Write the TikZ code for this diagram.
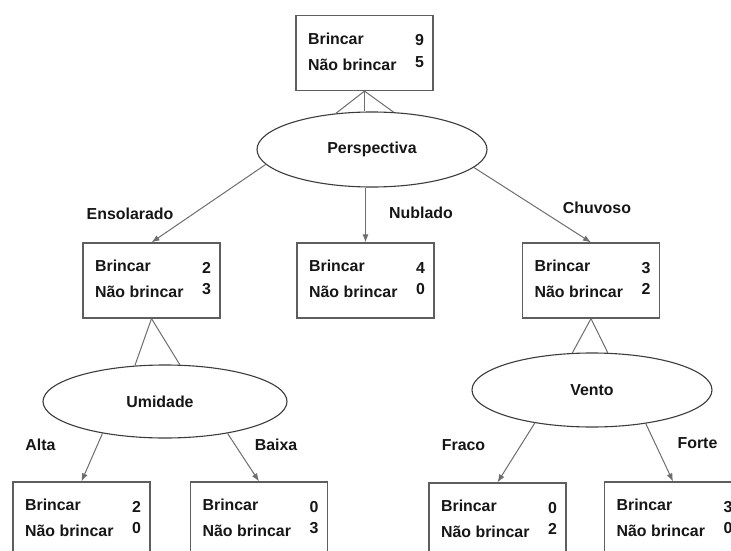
\documentclass[tikz,border=0pt]{standalone}
\usepackage{fontspec}
\setmainfont{Liberation Sans}
\usetikzlibrary{shapes.geometric,arrows.meta,calc}

\definecolor{inkc}{HTML}{161616}
\definecolor{boxc}{HTML}{5E5E5E}
\definecolor{linec}{HTML}{6E6E6E}
\definecolor{ellc}{HTML}{3C3C3C}

% one attribute box: two class rows with their counts
\newcommand\boxstats[3]{%
  \node[lbl,anchor=base west] (#1-a) at ($(#1.north west)+(12.5,29.5)$) {Brincar};
  \node[lbl,anchor=base west] (#1-b) at ($(#1.north west)+(12.5,55.5)$) {Não brincar};
  \node[lbl,anchor=base] (#1-n) at ($(#1.north east)+(-14,31)$) {#2};
  \node[lbl,anchor=base] (#1-m) at ($(#1.north east)+(-14,52.5)$) {#3};
}

\begin{document}
\begin{tikzpicture}[x=1pt,y=-1pt,
  every node/.style={font=\fontsize{15.9}{18}\selectfont\bfseries, text=inkc},
  lbl/.style={inner sep=0pt},
  statbox/.style={draw=boxc, line width=1.2pt, rectangle, minimum width=137pt, minimum height=75pt, inner sep=0pt},
  ell/.style={draw=ellc, line width=1.1pt, ellipse, inner sep=0pt},
  link/.style={draw=linec, line width=1pt},
  arr/.style={link, -{Latex[length=8pt,width=6pt]}}
]
\useasboundingbox (0,0) rectangle (731,551);
\clip (0,0) rectangle (731,551);
\fill[white] (0,0) rectangle (731,551);

% boxes
\node[statbox] (root)  at (364.5,53)   {};
\node[statbox] (ens)   at (151.5,280.5) {};
\node[statbox] (nub)   at (365.5,280.5) {};
\node[statbox] (chu)   at (591,280.5)   {};
\node[statbox] (alta)  at (81.5,519.5)  {};
\node[statbox] (baixa) at (259,519.5)   {};
\node[statbox] (fraco) at (497.5,520.5) {};
\node[statbox] (forte) at (673,519.5)   {};

\boxstats{root}{9}{5}
\boxstats{ens}{2}{3}
\boxstats{nub}{4}{0}
\boxstats{chu}{3}{2}
\boxstats{alta}{2}{0}
\boxstats{baixa}{0}{3}
\boxstats{fraco}{0}{2}
\boxstats{forte}{3}{0}

% split attributes
\node[ell, minimum width=230pt, minimum height=75pt] (pers) at (372,149.5) {Perspectiva};
\node[ell, minimum width=244pt, minimum height=73pt] (umi)  at (165,401.5) {\hspace*{-10pt}Umidade};
\node[ell, minimum width=240pt, minimum height=74pt] (vento) at (592,390) {Vento};

% box-to-attribute fans
\draw[link] (root.south) -- (pers.135);
\draw[link] (root.south) -- (pers.60);
\draw[link] (root.south) -- (root.south |- pers.north);
\draw[link] (ens.south) -- (umi.130);
\draw[link] (ens.south) -- (umi.68);
\draw[link] (chu.south) -- (vento.118);
\draw[link] (chu.south) -- (vento.67);

% branches
\draw[arr] (pers.188) -- (ens.north);
\draw[arr] (nub.north |- pers.south) -- (nub.north);
\draw[arr] (pers.350) -- (chu.north);
\draw[arr] (umi.207) -- (alta.north);
\draw[arr] (umi.333) -- (baixa.north);
\draw[arr] (vento.210) -- (fraco.north);
\draw[arr] (vento.328) -- (forte.north);

% branch values
\node[lbl] (tEns)   at (130,214) {Ensolarado};
\node[lbl] (tNub)   at (421,213) {Nublado};
\node[lbl] (tChu)   at (597,208) {Chuvoso};
\node[lbl] (tAlta)  at (40.5,445) {Alta};
\node[lbl] (tBaixa) at (276,445) {Baixa};
\node[lbl] (tFraco) at (463.5,445) {Fraco};
\node[lbl] (tForte) at (697.5,443) {Forte};
\end{tikzpicture}
\end{document}
